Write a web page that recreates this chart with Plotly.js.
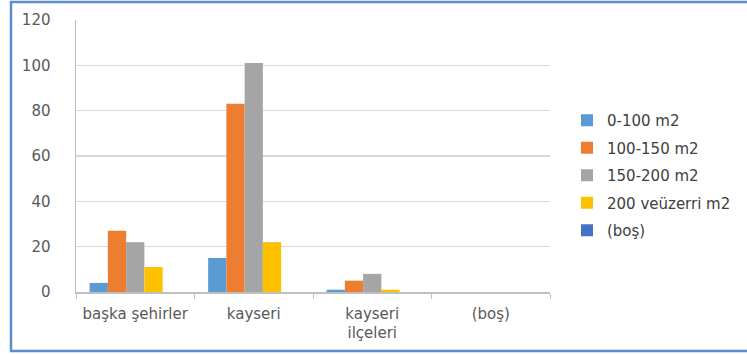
<!DOCTYPE html>
<html>
<head>
<meta charset="utf-8">
<script src="https://cdn.plot.ly/plotly-3.0.1.min.js"></script>
<style>
  html, body { margin: 0; padding: 0; background: #ffffff; }
  #chart { width: 747px; height: 354px; }
</style>
</head>
<body>
<div id="chart"></div>
<script>
// Categories along the x axis
const categories = ["başka şehirler", "kayseri", "kayseri ilçeleri", "(boş)"];
const categoryLabels = ["başka şehirler", "kayseri", "kayseri<br>ilçeleri", "(boş)"];

// Series names (legend)
const seriesNames = ["0-100 m2", "100-150 m2", "150-200 m2", "200 veüzerri m2", "(boş)"];

// Counts per category for each series
const s0to100 = [4, 15, 1, 0];
const s100to150 = [27, 83, 5, 0];
const s150to200 = [22, 101, 8, 0];
const s200plus = [11, 22, 1, 0];
const sEmpty = [0, 0, 0, 0];

const seriesValues = [s0to100, s100to150, s150to200, s200plus, sEmpty];
const seriesColors = ["#5b9bd5", "#ed7d31", "#a5a5a5", "#ffc000", "#4472c4"];

const traces = seriesNames.map((name, i) => ({
  type: "bar",
  name: name,
  x: categories,
  y: seriesValues[i],
  marker: { color: seriesColors[i], line: { width: 0 } },
  legendgroup: "g" + i,
  hoverinfo: "x+y+name"
}));

// Plot area in pixels
const W = 747, H = 354;
const L = 76, R = 550, T = 20, B = 292;
const pw = R - L, ph = B - T;
const px = v => (v - L) / pw;
const py = v => (B - v) / ph;

const FONT = "DejaVu Sans, sans-serif";

const layout = {
  width: W,
  height: H,
  margin: { l: L, r: W - R, t: T, b: H - B, pad: 0, autoexpand: false },
  paper_bgcolor: "#ffffff",
  plot_bgcolor: "#ffffff",
  font: { family: FONT, size: 15, color: "#595959" },
  barmode: "group",
  bargap: 0.23,
  bargroupgap: 0,
  showlegend: true,
  legend: {
    x: px(567), y: py(104), xanchor: "left", yanchor: "top",
    font: { family: FONT, size: 15, color: "#404040" },
    traceorder: "grouped",
    tracegroupgap: 5,
    bgcolor: "rgba(0,0,0,0)"
  },
  xaxis: {
    type: "category",
    categoryorder: "array",
    categoryarray: categories,
    tickvals: categories,
    ticktext: categoryLabels,
    tickangle: 0,
    tickson: "boundaries",
    ticks: "outside",
    ticklen: 5,
    tickcolor: "#bfbfbf",
    tickwidth: 1,
    showline: true,
    linecolor: "#bfbfbf",
    linewidth: 1.5,
    showgrid: false,
    zeroline: false,
    ticklabelstandoff: 7,
    tickfont: { family: FONT, size: 15, color: "#595959" },
    fixedrange: true
  },
  yaxis: {
    range: [0, 120],
    dtick: 20,
    tick0: 0,
    showgrid: true,
    gridcolor: "#d9d9d9",
    gridwidth: 1.5,
    showline: true,
    linecolor: "#bfbfbf",
    linewidth: 1.5,
    zeroline: false,
    ticks: "",
    ticklabelstandoff: 21,
    tickfont: { family: FONT, size: 15, color: "#595959" },
    fixedrange: true
  },
  shapes: [
    {
      type: "rect", xref: "paper", yref: "paper",
      x0: px(11), x1: px(760), y0: py(351), y1: py(2),
      line: { color: "#5b8ccf", width: 2.5 },
      fillcolor: "rgba(0,0,0,0)",
      layer: "above"
    }
  ]
};

Plotly.newPlot("chart", traces, layout, { displayModeBar: false, staticPlot: true });
</script>
</body>
</html>
